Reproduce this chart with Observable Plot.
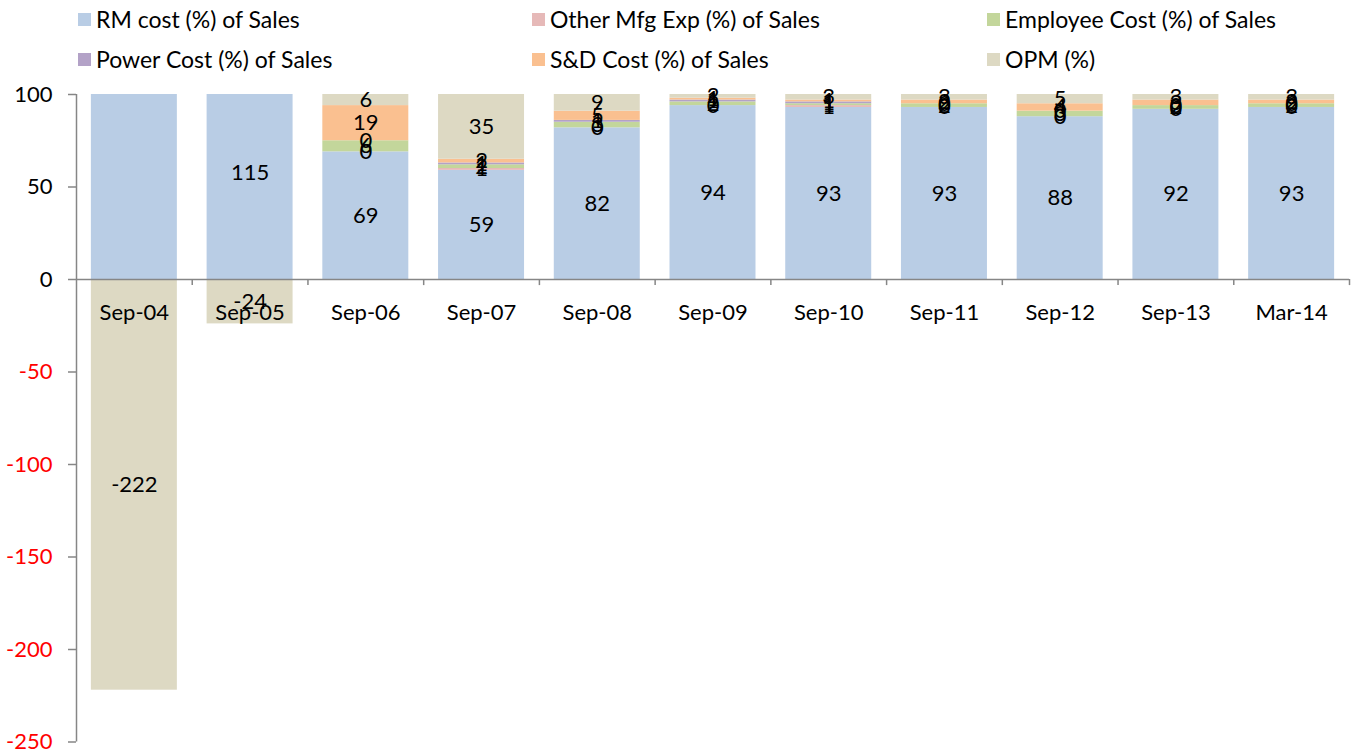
<!DOCTYPE html>
<html>
<head>
<meta charset="utf-8">
<script src="https://cdn.jsdelivr.net/npm/d3@7"></script>
<script src="https://cdn.jsdelivr.net/npm/@observablehq/plot@0.6"></script>
<style>
  html, body { margin: 0; padding: 0; background: #fff; }
  body { width: 1356px; height: 754px; overflow: hidden; font-family: Lato, "Open Sans", sans-serif; }
  #legend { position: relative; width: 1356px; height: 78px; }
  .item { position: absolute; display: flex; align-items: center; font-size: 23px; color: #000; white-space: nowrap; transform: translateY(-50%); }
  .sw { width: 13px; height: 13px; margin-right: 5px; }
</style>
</head>
<body>
<div id="legend"></div>
<div id="chart"></div>
<script>
const categories = ["Sep-04","Sep-05","Sep-06","Sep-07","Sep-08","Sep-09","Sep-10","Sep-11","Sep-12","Sep-13","Mar-14"];
const seriesNames = ["RM cost (%) of Sales","Other Mfg Exp (%) of Sales","Employee Cost (%) of Sales","Power Cost (%) of Sales","S&D Cost (%) of Sales","OPM (%)"];
const seriesColors = ["#B9CDE5","#E6B9B8","#C3D69B","#B3A2C7","#FAC090","#DDD9C3"];
const rmCost    = [280, 115, 69, 59, 82, 94, 93, 93, 88, 92, 93];
const otherMfg  = [12,   2,  0,  1,  0,  0,  1,  0,  0,  0,  0];
const employee  = [15,   3,  6,  2,  3,  2,  1,  2,  3,  2,  2];
const power     = [5,    1,  0,  1,  1,  1,  1,  0,  0,  0,  0];
const sdCost    = [10,   3, 19,  2,  5,  1,  1,  2,  4,  3,  2];
const opm       = [-222,-24, 6, 35,  9,  2,  3,  3,  5,  3,  3];
const yTicksPos = [0, 50, 100];
const yTicksNeg = [-50, -100, -150, -200, -250];
const yDomain = [-250, 100];

const seriesValues = [rmCost, otherMfg, employee, power, sdCost, opm];
const data = [];
seriesNames.forEach((s, si) => categories.forEach((c, ci) => data.push({cat: c, series: s, value: seriesValues[si][ci]})));

// Like Excel, a data label is shown only when its segment's centre lies inside the plot area.
const posSum = {}, negSum = {};
for (const d of data) {
  const base = d.value >= 0 ? (posSum[d.cat] || 0) : (negSum[d.cat] || 0);
  const mid = base + d.value / 2;
  d.visible = mid >= yDomain[0] && mid <= yDomain[1];
  if (d.value >= 0) posSum[d.cat] = base + d.value; else negSum[d.cat] = base + d.value;
}

// legend
const legendPos = [[78,19],[532,19],[987,19],[78,59],[532,59],[987,59]];
const leg = document.getElementById("legend");
seriesNames.forEach((s, i) => {
  const d = document.createElement("div");
  d.className = "item";
  d.style.left = legendPos[i][0] + "px";
  d.style.top = legendPos[i][1] + "px";
  d.innerHTML = `<span class="sw" style="background:${seriesColors[i]}"></span><span></span>`;
  d.lastChild.textContent = s;
  leg.appendChild(d);
});

const W = 1356, H = 676, mL = 76, mR = 7;
const step = (W - mL - mR) / categories.length;
const axisColor = "#868686";

const chart = Plot.plot({
  width: W, height: H,
  marginLeft: mL, marginRight: mR, marginTop: 16, marginBottom: 12.5,
  style: {fontFamily: "Lato, 'Open Sans', sans-serif", fontSize: "22px", background: "#fff"},
  x: {domain: categories, paddingInner: 0.257, paddingOuter: 0.1285, round: false, axis: null},
  y: {domain: yDomain, axis: null},
  color: {domain: seriesNames, range: seriesColors},
  marks: [
    Plot.barY(data, {x: "cat", y: "value", fill: "series", order: seriesNames, clip: true}),
    Plot.text(data, Plot.stackY({x: "cat", y: "value", z: "series", order: seriesNames, text: d => d.visible ? String(d.value) : "", fill: "#000", fontSize: 22})),
    Plot.ruleY([0], {stroke: axisColor, strokeWidth: 1.5}),
    Plot.ruleX(categories, {x: d => d, y1: 0, y2: -3.3, dx: step / 2, stroke: axisColor, strokeWidth: 1.5}),
    Plot.ruleX([categories[0]], {x: d => d, y1: yDomain[0], y2: yDomain[1], dx: -step / 2, stroke: axisColor, strokeWidth: 1.5}),
    Plot.text(categories, {x: d => d, y: 0, dy: 33, text: d => d, fill: "#000", fontSize: 22}),
    Plot.axisY({ticks: yTicksPos, label: null, tickSize: 8, tickPadding: 16, stroke: axisColor, fill: "#000", fontSize: 22, tickFormat: d => String(d), strokeWidth: 1.5}),
    Plot.axisY({ticks: yTicksNeg, label: null, tickSize: 8, tickPadding: 16, stroke: axisColor, fill: "#FF0000", fontSize: 22, tickFormat: d => String(d), strokeWidth: 1.5})
  ]
});
document.getElementById("chart").appendChild(chart);
</script>
</body>
</html>
